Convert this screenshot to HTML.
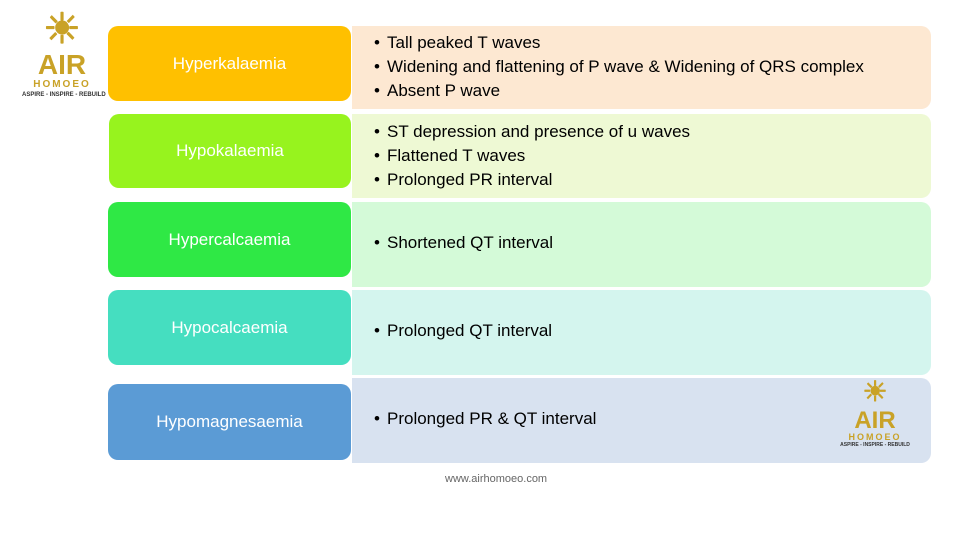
<!DOCTYPE html>
<html><head><style>
body{margin:0;width:971px;height:537px;background:#fff;position:relative;font-family:"Liberation Sans",sans-serif;overflow:hidden}
.l{position:absolute;left:108px;width:243px;border-radius:10px;color:#fff;font-size:17px;display:flex;align-items:center;justify-content:center}
.r{position:absolute;left:352px;width:579px;border-radius:0 10px 10px 0;font-size:17px;color:#000}
.t{position:absolute;left:22px;white-space:nowrap}
.t:before{content:"•";position:absolute;left:-13px}
</style></head><body>
<div class="r" style="top:26px;height:83px;background:#FDE8D2">
<div class="t" style="left:35px;top:7px">Tall peaked T waves</div>
<div class="t" style="left:35px;top:31px">Widening and flattening of P wave &amp; Widening of QRS complex</div>
<div class="t" style="left:35px;top:55px">Absent P wave</div></div>
<div class="r" style="top:114px;height:84px;background:#EEF9D4">
<div class="t" style="left:35px;top:8px">ST depression and presence of u waves</div>
<div class="t" style="left:35px;top:32px">Flattened T waves</div>
<div class="t" style="left:35px;top:56px">Prolonged PR interval</div></div>
<div class="r" style="top:202px;height:85px;background:#D4FAD8">
<div class="t" style="left:35px;top:31px">Shortened QT interval</div></div>
<div class="r" style="top:290px;height:85px;background:#D4F5EE">
<div class="t" style="left:35px;top:31px">Prolonged QT interval</div></div>
<div class="r" style="top:378px;height:85px;background:#D8E2F0">
<div class="t" style="left:35px;top:31px">Prolonged PR &amp; QT interval</div>
<div style="position:absolute;left:485px;top:-4px;width:76px;text-align:center;color:#C9A227;font-weight:bold">
<div style="font-size:28px;line-height:36px">☀</div><div style="font-size:24px;line-height:22px">AIR</div><div style="font-size:9px;letter-spacing:2px">HOMOEO</div><div style="font-size:5px;color:#333;white-space:nowrap">ASPIRE - INSPIRE - REBUILD</div></div></div>
<div class="l" style="top:26px;height:75px;background:#FFC000">Hyperkalaemia</div>
<div class="l" style="top:114px;height:74px;left:109px;width:242px;background:#97F31E">Hypokalaemia</div>
<div class="l" style="top:202px;height:75px;background:#2FE845">Hypercalcaemia</div>
<div class="l" style="top:290px;height:75px;background:#45DEC0">Hypocalcaemia</div>
<div class="l" style="top:384px;height:76px;background:#5B9BD5">Hypomagnesaemia</div>
<div style="position:absolute;left:22px;top:6px;width:80px;text-align:center;color:#C9A227;font-weight:bold">
<div style="font-size:42px;line-height:46px">☀</div><div style="font-size:28px;line-height:26px">AIR</div><div style="font-size:10px;letter-spacing:2px;line-height:14px">HOMOEO</div><div style="font-size:6px;color:#333;white-space:nowrap">ASPIRE - INSPIRE - REBUILD</div></div>
<div style="position:absolute;left:445px;top:473px;font-size:11px;color:#666">www.airhomoeo.com</div>
</body></html>
